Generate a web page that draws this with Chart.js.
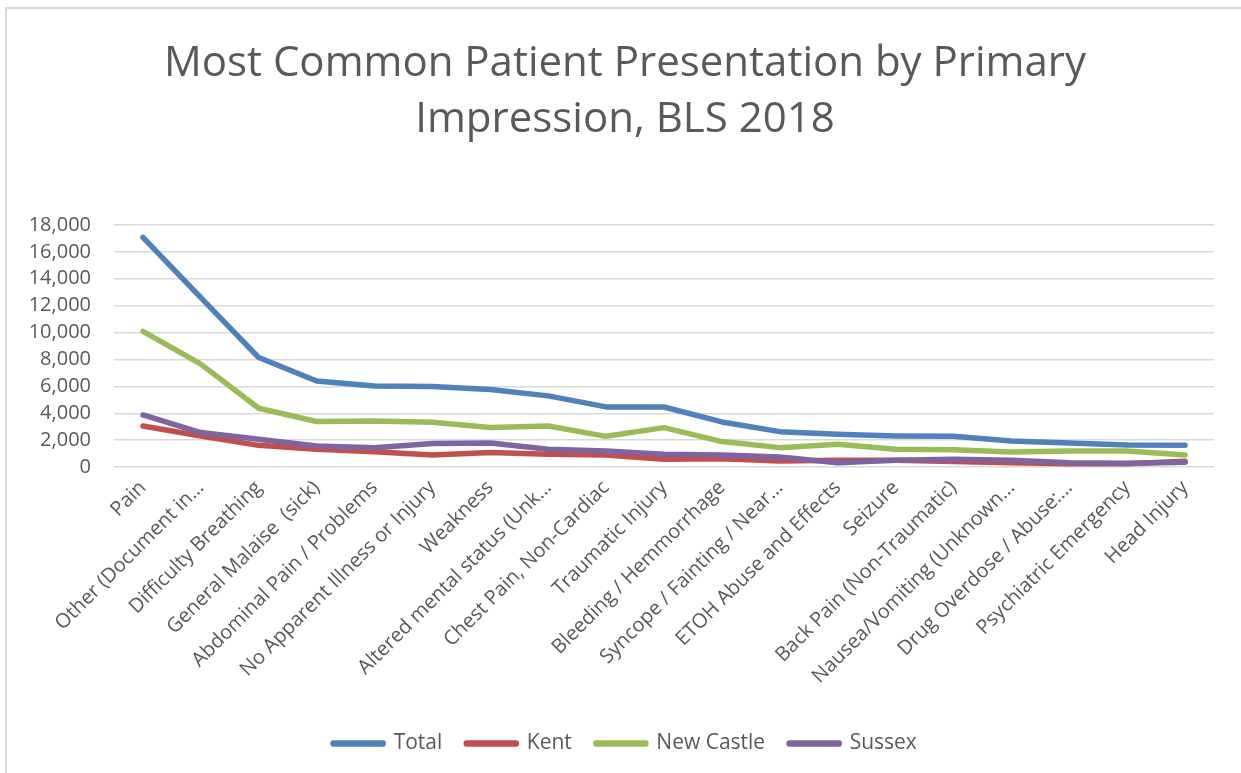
<!DOCTYPE html>
<html lang="en">
<head>
    <meta charset="UTF-8">
    <title>Most Common Patient Presentation by Primary Impression, BLS 2018</title>
    <script src="https://cdn.jsdelivr.net/npm/chart.js"></script>
    <style>
        body { margin: 0; background: #fff; }
        #frame {
            position: absolute; left: 5px; top: 7px; width: 1300px; height: 800px;
            border-left: 2px solid #d9d9d9; border-top: 2px solid #d9d9d9;
        }
        #chartBox { position: absolute; left: 0; top: 0; width: 1241px; height: 773px; }
    </style>
</head>
<body>
    <div id="frame"></div>
    <div id="chartBox"><canvas id="impressionChart" width="1241" height="773"></canvas></div>
    <script>
    // values
    const categories = [
        'Pain', 'Other (Document in…', 'Difficulty Breathing', 'General Malaise  (sick)',
        'Abdominal Pain / Problems', 'No Apparent Illness or Injury', 'Weakness',
        'Altered mental status (Unk…', 'Chest Pain, Non-Cardiac', 'Traumatic Injury',
        'Bleeding / Hemmorrhage', 'Syncope / Fainting / Near…', 'ETOH Abuse and Effects',
        'Seizure', 'Back Pain (Non-Traumatic)', 'Nausea/Vomiting (Unknown…',
        'Drug Overdose / Abuse:…', 'Psychiatric Emergency', 'Head Injury'
    ];
    const total     = [17080, 12600, 8140, 6400, 6030, 5980, 5760, 5290, 4470, 4460, 3350, 2630, 2430, 2310, 2280, 1940, 1790, 1640, 1610];
    const kent      = [3050, 2310, 1610, 1320, 1140, 890, 1070, 940, 900, 570, 620, 450, 500, 500, 400, 320, 250, 250, 420];
    const newCastle = [10080, 7650, 4370, 3380, 3430, 3330, 2930, 3050, 2280, 2930, 1890, 1440, 1690, 1320, 1290, 1120, 1190, 1190, 890];
    const sussex    = [3870, 2560, 2060, 1560, 1440, 1740, 1790, 1320, 1190, 940, 890, 740, 320, 500, 570, 500, 320, 270, 350];
    const yTicksMax = 18000;
    const yTickStep = 2000;

    const textColor = '#595959';
    const font = "'Open Sans', 'Liberation Sans', sans-serif";

    function series(label, data, color, order) {
        return {
            label: label,
            data: data,
            borderColor: color,
            backgroundColor: color,
            borderWidth: 5.5,
            borderCapStyle: 'round',
            borderJoinStyle: 'round',
            pointRadius: 0,
            pointHoverRadius: 0,
            tension: 0,
            fill: false,
            order: order
        };
    }

    // the y labels sit partly inside the left padding; let them draw there instead of being clipped
    const unclipYLabels = {
        id: 'unclipYLabels',
        afterLayout: function (chart) { chart.scales.y.left = 0; }
    };

    const ctx = document.getElementById('impressionChart').getContext('2d');
    new Chart(ctx, {
        type: 'line',
        data: {
            labels: categories,
            datasets: [
                series('Total', total, '#4f81bd', 3),
                series('Kent', kent, '#c0504d', 2),
                series('New Castle', newCastle, '#9bbb59', 1),
                series('Sussex', sussex, '#8064a2', 0)
            ]
        },
        plugins: [unclipYLabels],
        options: {
            responsive: false,
            animation: false,
            // left padding keeps the title centred where the original (wider) chart had it
            layout: { padding: { left: 36, right: 27, top: 0, bottom: 9 } },
            scales: {
                x: {
                    offset: true,
                    grid: { display: false },
                    border: { display: false },
                    ticks: {
                        autoSkip: false,
                        maxRotation: 45,
                        minRotation: 45,
                        padding: 1,
                        color: textColor,
                        font: { family: font, size: 20 }
                    },
                    afterFit: function (scale) { scale.height = 242; }
                },
                y: {
                    min: 0,
                    max: yTicksMax,
                    grid: { color: '#d9d9d9', lineWidth: 1.4, drawTicks: false },
                    border: { display: false },
                    ticks: {
                        stepSize: yTickStep,
                        autoSkip: false,
                        padding: 23,
                        color: textColor,
                        font: { family: font, size: 20 }
                    },
                    afterFit: function (scale) { scale.width = 78; }
                }
            },
            plugins: {
                title: {
                    display: true,
                    text: ['Most Common Patient Presentation by Primary', 'Impression, BLS 2018'],
                    color: textColor,
                    font: { family: font, size: 42, weight: 'normal', lineHeight: 1.333 },
                    padding: { top: 36, bottom: 77 }
                },
                legend: {
                    display: true,
                    position: 'bottom',
                    labels: {
                        boxWidth: 50,
                        boxHeight: 1,
                        padding: 24,
                        color: textColor,
                        font: { family: font, size: 21 },
                        sort: function (a, b) { return a.datasetIndex - b.datasetIndex; }
                    }
                },
                tooltip: { enabled: false }
            }
        }
    });
    </script>
</body>
</html>
